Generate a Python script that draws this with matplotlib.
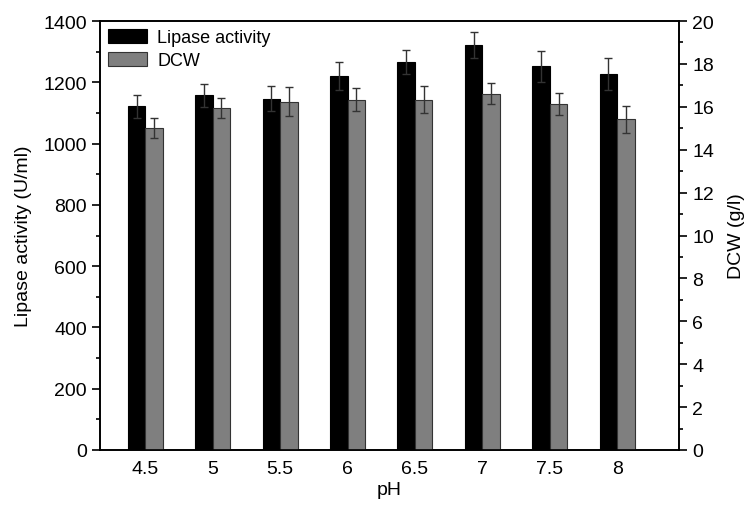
import numpy as np
import matplotlib
matplotlib.use("Agg")
import matplotlib.pyplot as plt
from matplotlib.ticker import MultipleLocator

plt.rcParams['font.family'] = ['Liberation Sans', 'DejaVu Sans']

ph_labels = ['4.5', '5', '5.5', '6', '6.5', '7', '7.5', '8']
lipase = [1122, 1157, 1147, 1221, 1267, 1321, 1252, 1226]
lipase_err = [38, 39, 40, 46, 40, 42, 50, 52]
dcw = [15.03, 15.94, 16.24, 16.34, 16.34, 16.62, 16.14, 15.41]
dcw_err = [0.47, 0.47, 0.67, 0.52, 0.64, 0.5, 0.5, 0.63]

x = np.arange(len(ph_labels))
w = 0.26

fig = plt.figure(figsize=(7.53, 5.06), dpi=100)
ax = fig.add_axes([0.133, 0.1087, 0.769, 0.8478])
ax2 = ax.twinx()

ax.bar(x - w / 2, lipase, w, color='black', edgecolor='black', linewidth=0.8,
       label='Lipase activity', zorder=2)
ax.errorbar(x - w / 2, lipase, yerr=lipase_err, fmt='none', ecolor='#333333',
            elinewidth=1, capsize=3, capthick=1, zorder=3)

ax2.bar(x + w / 2, dcw, w, color='#7f7f7f', edgecolor='#333333', linewidth=0.8,
        label='DCW', zorder=2)
ax2.errorbar(x + w / 2, dcw, yerr=dcw_err, fmt='none', ecolor='#333333',
             elinewidth=1, capsize=3, capthick=1, zorder=3)

ax.set_xlim(-0.67, 7.92)
ax.set_ylim(0, 1400)
ax2.set_ylim(0, 20)
ax.set_xticks(x)
ax.set_xticklabels(ph_labels)

ax.yaxis.set_major_locator(MultipleLocator(200))
ax.yaxis.set_minor_locator(MultipleLocator(100))
ax2.yaxis.set_major_locator(MultipleLocator(2))
ax2.yaxis.set_minor_locator(MultipleLocator(1))

ax.tick_params(axis='y', which='major', direction='out', length=6, width=1.2, labelsize=14)
ax.tick_params(axis='y', which='minor', direction='out', length=3, width=1.2)
ax.tick_params(axis='x', length=0, labelsize=14, pad=7)
ax2.tick_params(axis='y', which='major', direction='out', length=6, width=1.2, labelsize=14)
ax2.tick_params(axis='y', which='minor', direction='out', length=3, width=1.2)

for a in (ax, ax2):
    for s in a.spines.values():
        s.set_linewidth(1.2)

ax.set_xlabel('pH', fontsize=14, labelpad=3)
ax.set_ylabel('Lipase activity (U/ml)', fontsize=14, labelpad=8)
ax2.set_ylabel('DCW (g/l)', fontsize=14, labelpad=10)

h1, l1 = ax.get_legend_handles_labels()
h2, l2 = ax2.get_legend_handles_labels()
ax.legend(h1 + h2, l1 + l2, loc='upper left', frameon=False, fontsize=13,
          handlelength=2.15, handleheight=0.8, borderaxespad=0.15,
          borderpad=0.3, labelspacing=0.3, handletextpad=0.55)

fig.savefig('out.png', dpi=100)
